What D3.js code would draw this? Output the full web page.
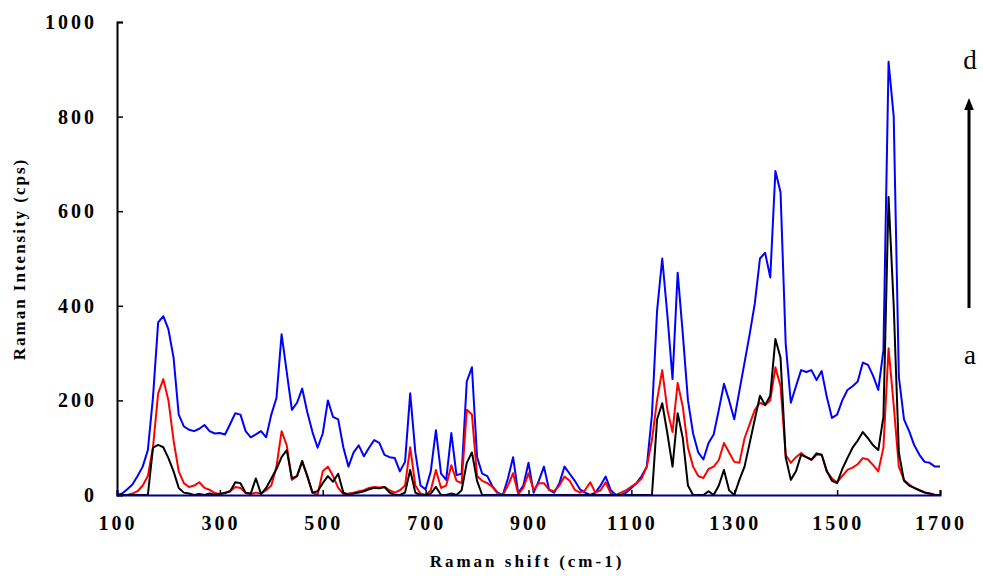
<!DOCTYPE html>
<html><head><meta charset="utf-8">
<script src="https://cdn.jsdelivr.net/npm/d3@7"></script>
<style>body{margin:0;background:#fff}svg{display:block}</style>
</head><body>
<script>
// Raman shift grid (cm-1), step 10 from 100 to 1700
const shift = d3.range(100, 1701, 10);
const xTicks = [100, 300, 500, 700, 900, 1100, 1300, 1500, 1700];
const yTicks = [0, 200, 400, 600, 800, 1000];

// spectrum d (blue)
const specD = [
0,3,12,22,40,60,95,207,365,378,
350,290,170,145,138,135,140,148,135,130,
131,128,150,173,170,135,122,128,135,122,
170,205,340,260,180,195,225,175,133,100,
130,200,165,160,101,60,90,105,82,100,
116,110,85,80,78,50,70,215,90,20,
12,50,137,45,32,131,42,45,240,270,
80,45,40,18,5,0,35,80,4,20,
68,5,30,60,11,5,25,60,45,30,
12,5,0,5,20,39,10,0,0,5,
15,25,40,60,170,390,500,380,245,470,
340,200,130,90,75,110,128,180,235,200,
160,220,280,340,405,500,512,460,685,640,
320,195,230,264,260,264,243,262,207,163,
170,200,222,230,240,280,275,252,222,306,
916,800,250,160,135,105,85,70,68,60,
60];
// spectrum c (red)
const specC = [
0,0,0,3,8,20,40,101,215,245,
200,115,50,25,17,20,27,15,11,4,
2,5,8,17,15,4,2,5,3,10,
20,60,135,105,32,40,70,40,5,0,
50,60,40,15,2,3,5,8,10,15,
17,16,17,10,5,10,20,101,20,3,
0,10,53,15,20,63,30,25,180,170,
40,30,25,17,3,0,20,46,2,15,
46,10,25,25,11,8,20,39,30,11,
5,10,27,5,10,27,3,0,5,10,
18,25,35,60,116,201,264,180,133,237,
186,100,60,40,36,55,60,74,110,90,
70,68,120,150,180,195,190,200,270,230,
85,68,80,89,80,74,85,85,50,35,
27,40,53,58,65,78,75,63,50,100,
310,190,60,32,22,15,10,6,3,0,
0];
// spectrum a (black)
const specA = [
0,0,0,0,0,0,0,100,106,101,
78,50,15,5,3,0,2,0,3,0,
2,4,8,27,25,5,3,35,2,15,
35,55,80,95,35,40,72,40,5,8,
25,40,28,45,5,0,3,5,8,12,
15,14,17,5,0,0,5,53,5,0,
0,3,17,0,0,3,0,10,68,90,
30,0,0,0,0,0,0,0,0,0,
0,0,0,0,0,0,0,0,0,0,
0,0,0,0,0,0,0,0,0,0,
0,0,0,0,0,160,194,130,60,173,
120,20,0,0,0,8,0,20,53,10,
0,32,60,110,160,210,190,210,330,290,
80,32,50,85,80,75,88,85,50,30,
25,55,78,100,115,133,120,105,95,165,
630,400,90,30,20,15,10,5,3,0,
0];

const series = [
  {name: "d", values: specD, color: "#0000ff"},
  {name: "c", values: specC, color: "#ff0000"},
  {name: "a", values: specA, color: "#000000"}
];

const W = 983, H = 576;
const svg = d3.select("body").append("svg").attr("width", W).attr("height", H);
const x = d3.scaleLinear().domain([100, 1700]).range([117, 940]);
const y = d3.scaleLinear().domain([0, 1000]).range([495, 22]);

const font = "'Liberation Serif','Times New Roman',serif";

// series
const lineGen = d3.line().x((d, i) => x(shift[i])).y(d => y(d)).curve(d3.curveLinear);
series.forEach(s => {
  svg.append("path")
    .attr("d", lineGen(s.values))
    .attr("fill", "none").attr("stroke", s.color).attr("stroke-width", 2)
    .attr("stroke-linejoin", "round");
});

// y axis
const yAxis = svg.append("g").attr("transform", "translate(117,0)")
  .call(d3.axisRight(y).tickValues(yTicks).tickSize(6).tickFormat(""));
yAxis.select(".domain").attr("stroke", "#000").attr("stroke-width", 2);
yAxis.selectAll(".tick line").attr("stroke", "#000").attr("stroke-width", 1.5);
svg.append("g").selectAll("text").data(yTicks).join("text")
  .attr("x", 97).attr("y", d => y(d) + 7)
  .attr("text-anchor", "end")
  .style("font-family", font).style("font-weight", "bold").style("font-size", "20px")
  .style("letter-spacing", "3px")
  .text(d => d);

// x axis
const xAxis = svg.append("g").attr("transform", "translate(0,495)")
  .call(d3.axisTop(x).tickValues(xTicks).tickSize(5).tickFormat(""));
xAxis.select(".domain").attr("stroke", "#000080").attr("stroke-width", 2);
xAxis.selectAll(".tick line").attr("stroke", "#000").attr("stroke-width", 1.5);
svg.append("g").selectAll("text").data(xTicks).join("text")
  .attr("x", d => x(d) + 1).attr("y", 530)
  .attr("text-anchor", "middle")
  .style("font-family", font).style("font-weight", "bold").style("font-size", "20px")
  .style("letter-spacing", "3px")
  .text(d => d);

// titles
svg.append("text").attr("x", 527).attr("y", 567).attr("text-anchor", "middle")
  .style("font-family", font).style("font-weight", "bold").style("font-size", "17px")
  .style("letter-spacing", "3px")
  .text("Raman shift (cm-1)");
svg.append("text").attr("transform", "translate(25,259) rotate(-90)").attr("text-anchor", "middle")
  .style("font-family", font).style("font-weight", "bold").style("font-size", "17px")
  .style("letter-spacing", "2px")
  .text("Raman Intensity (cps)");

// arrow and labels
svg.append("defs").append("marker").attr("id", "ah").attr("viewBox", "0 0 10 10")
  .attr("refX", 5).attr("refY", 5).attr("markerWidth", 4).attr("markerHeight", 4)
  .attr("orient", "auto")
  .append("path").attr("d", "M0,1 L10,5 L0,9 Z").attr("fill", "#000");
svg.append("line").attr("x1", 969).attr("y1", 308).attr("x2", 969).attr("y2", 104)
  .attr("stroke", "#000").attr("stroke-width", 3).attr("marker-end", "url(#ah)");
svg.append("text").attr("x", 970).attr("y", 69).attr("text-anchor", "middle")
  .style("font-family", font).style("font-size", "27px").text("d");
svg.append("text").attr("x", 970).attr("y", 364).attr("text-anchor", "middle")
  .style("font-family", font).style("font-size", "27px").text("a");
</script>
</body></html>
